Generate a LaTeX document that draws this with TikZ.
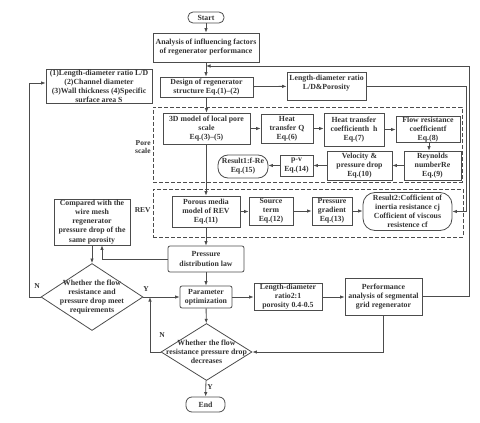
\documentclass[tikz,border=0pt]{standalone}
\usepackage{fontspec}
\setmainfont{Liberation Serif}
\usetikzlibrary{arrows.meta,shapes.geometric}
\tikzset{
  sz/.style 2 args={minimum width=#1pt, minimum height=#2pt},
  box/.style={draw=black!70, rectangle, align=center, inner sep=0.5pt},
  dia/.style={draw=black!70, diamond, inner sep=0pt},
  dashbox/.style={draw=black!70, dash pattern=on 4pt off 2pt, rectangle, inner sep=0pt},
  arr/.style={draw=black!70, -{Latex[length=4.5pt,width=3.5pt]}},
  lbl/.style={font=\bfseries\fontsize{7.5}{8.5}\selectfont, inner sep=0pt}
}
\begin{document}
\begin{tikzpicture}[x=1pt,y=-1pt,
  font=\bfseries\fontsize{7.8}{9.1}\selectfont,
  line width=0.8pt,
  every node/.style={text=black!80}]
\useasboundingbox (0,0) rectangle (480,423);

% dashed groups
\node[dashbox, sz={309}{75}] (pore) at (307.5,144.5) {};
\node[dashbox, sz={310}{48}] (rev) at (308,213) {};
\node[lbl, align=right, anchor=east] (porelbl) at (151,147) {Pore\\scale};
\node[lbl, anchor=east] (revlbl) at (151,210) {REV};

% nodes
\node[box,sz={36}{11},rounded corners=5pt] (start) at (206,17.5) {Start};
\node[box,sz={106}{29}] (analysis) at (206,47.5) {Analysis of influencing factors\\of regenerator performance};
\node[box,sz={106}{28}] (list) at (99,86) {(1)Length-diameter ratio L/D\\(2)Channel diameter\\(3)Wall thickness (4)Specific\\surface area S};
\node[box,sz={93}{20}] (design) at (206.5,87) {Design of regenerator\\structure Eq.(1)--(2)};
\node[box,sz={79}{28},text depth=8pt] (ld) at (326.5,86) {Length-diameter ratio\\L/D\&Porosity};
\node[box,sz={87}{31}] (m3d) at (206.5,128.5) {3D model of local pore\\scale\\Eq.(3)--(5)};
\node[box,sz={52}{29}] (hq) at (287,128.5) {Heat\\transfer Q\\Eq.(6)};
\node[box,sz={60}{33}] (hh) at (354,129.5) {Heat transfer\\coefficienth~ h\\Eq.(7)};
\node[box,sz={64}{25}] (fr) at (428,129.5) {Flow resistance\\coefficientf\\Eq.(8)};
\node[box,sz={57}{29}] (re) at (432.5,165.5) {Reynolds\\numberRe\\Eq.(9)};
\node[box,sz={65}{29}] (vel) at (359.5,165.5) {Velocity \&\\pressure drop\\Eq.(10)};
\node[box,sz={33}{21}] (pv) at (296.5,165.5) {p-v\\Eq.(14)};
\node[box,sz={50}{23},rounded corners=10pt] (r1) at (243,166.5) {Result1:f-Re\\Eq.(15)};
\node[box,sz={68}{31}] (porous) at (206,211.5) {Porous media\\model of REV\\Eq.(11)};
\node[box,sz={44}{28}] (src) at (271,211) {Source\\term\\Eq.(12)};
\node[box,sz={40}{28}] (grad) at (332,211) {Pressure\\gradient\\Eq.(13)};
\node[box,sz={89}{38},rounded corners=12pt] (r2) at (407.5,211.5) {Result2:Cofficient of\\inertia resistance cj\\Cofficient of viscous\\resistence cf};
\node[box,sz={76}{46}] (cmp) at (92,222) {Compared with the\\wire mesh\\regenerator\\pressure drop of the\\same porosity};
\node[box,sz={76}{26},rounded corners=2pt] (pdl) at (206,259) {Pressure\\distribution law};
\node[dia,sz={102}{67},label={[align=center]center:Whether the flow\\resistance and\\pressure drop meet\\requirements}] (d1) at (92,297) {};
\node[box,sz={52}{22},rounded corners=2pt] (param) at (206,297) {Parameter\\optimization};
\node[box,sz={68}{26}] (ld2) at (288,297) {Length-diameter\\ratio2:1\\porosity 0.4-0.5};
\node[box,sz={77}{37}] (perf) at (383.5,296.5) {Performance\\analysis of segmental\\grid regenerator};
\node[dia,sz={91}{57},label={[align=center]center:Whether the flow\\resistance pressure drop\\decreases}] (d2) at (206.5,352) {};
\node[box,sz={39}{15},rounded corners=6pt] (end) at (205.5,404.5) {End};

% edge labels
\node[lbl] (n1) at (37,286) {N};
\node[lbl] (y1) at (146,289) {Y};
\node[lbl] (n2) at (162,335) {N};
\node[lbl] (y2) at (210,387) {Y};

% helper coordinates
\coordinate (c1) at (466,211.5);
\coordinate (c2) at (29,83);
\coordinate (c3) at (469,66);
\coordinate (c4) at (206,66);
\coordinate (c5) at (102,259);
\coordinate (c6) at (150,297);
\coordinate (c7) at (429,0);

% connectors
\draw[arr] (start) -- (analysis);
\draw[arr] (analysis) -- (analysis |- design.north);
\draw[arr] (design) -- (ld);
\draw[arr] (ld.east) -| (c1) -- (c1 -| r2.east);
\draw[arr] (design.south -| m3d.north) -- (m3d.north);
\draw[arr] (m3d.east) -- (m3d.east -| hq.west);
\draw[arr] (hq.east) -- (hq.east -| hh.west);
\draw[arr] (hh.east) -- (hh.east -| fr.west);
\draw[arr] (fr.south -| c7) -- (re.north -| c7);
\draw[arr] (re.west) -- (re.west -| vel.east);
\draw[arr] (vel.west) -- (vel.west -| pv.east);
\draw[arr] (pv.west) -- (pv.west -| r1.east);
\draw[arr] (m3d.south -| porous.north) -- (porous.north);
\draw[arr] (porous.east) -- (porous.east -| src.west);
\draw[arr] (src.east) -- (src.east -| grad.west);
\draw[arr] (grad.east) -- (grad.east -| r2.west);
\draw[arr] (porous) -- (pdl);
\draw[arr] (pdl.west) -- (c5) -- (c5 |- cmp.south);
\draw[arr] (cmp) -- (d1);
\draw[arr] (d1.west) -| (c2) -- (c2 -| list.west);
\draw[arr] (d1.east) -- (param.west);
\draw[arr] (pdl) -- (param);
\draw[arr] (param) -- (ld2);
\draw[arr] (ld2) -- (ld2 -| perf.west);
\draw[arr] (perf.east) -| (c3) -- (c4);
\draw[arr] (perf.south) |- (d2.east);
\draw[arr] (param) -- (d2);
\draw[arr] (d2.west) -| (c6);
\draw[arr] (d2) -- (end);
\end{tikzpicture}
\end{document}
